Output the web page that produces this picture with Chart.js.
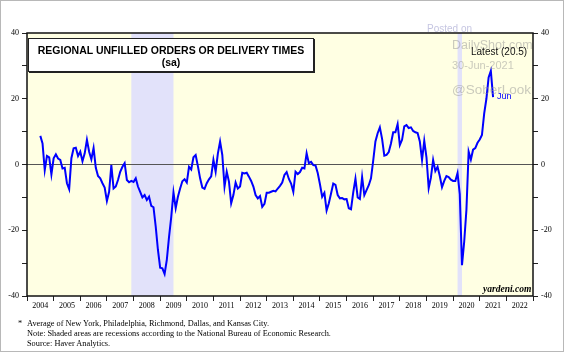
<!DOCTYPE html>
<html>
<head>
<meta charset="utf-8">
<script src="https://cdn.jsdelivr.net/npm/chart.js@4.4.1/dist/chart.umd.min.js"></script>
<style>
html, body { margin: 0; padding: 0; background: #fff; }
#wrap { position: relative; width: 564px; height: 352px; overflow: hidden; }
#chart { position: absolute; left: 0; top: 0; }
#edge { position: absolute; left: 0; top: 0; width: 562px; height: 350px; border: 1px solid #b8b8b8; pointer-events: none; }
.t { position: absolute; white-space: nowrap; line-height: 1; }
#titleBox { position: absolute; left: 28px; top: 38px; width: 284px; height: 32px; background: #fff;
  border: 1px solid #222; box-shadow: 1px 1px 0 #222; font-family: "Liberation Sans", Arial, sans-serif;
  font-weight: bold; font-size: 10.5px; text-align: center; color: #000; }
#titleBox div { position: absolute; left: 0; right: 0; line-height: 1; }
.mark { color: rgba(150, 150, 150, 0.5); font-family: "Liberation Sans", Arial, sans-serif; }
.note { font-family: "Liberation Serif", "Times New Roman", serif; font-size: 8.3px; color: #000; }
</style>
</head>
<body>
<div id="wrap">
  <canvas id="chart" width="564" height="352"></canvas>
  <div id="titleBox">
    <div style="top:6px">REGIONAL UNFILLED ORDERS OR DELIVERY TIMES</div>
    <div style="top:18px">(sa)</div>
  </div>
  <div class="t mark" style="left:427px;top:24px;font-size:10px;color:rgba(150,150,200,0.55)">Posted on</div>
  <div class="t mark" style="left:452px;top:39px;font-size:12.5px">DailyShot.com</div>
  <div class="t mark" style="left:452px;top:60px;font-size:11px">30-Jun-2021</div>
  <div class="t mark" style="left:452px;top:83px;font-size:13.5px">@SoberLook</div>
  <div class="t" style="left:471px;top:47px;font-size:10px;color:#111;font-family:'Liberation Sans',Arial,sans-serif">Latest (20.5)</div>
  <div class="t" style="left:497px;top:92px;font-size:9px;color:#0000ff;font-family:'Liberation Sans',Arial,sans-serif">Jun</div>
  <div class="t" style="left:483px;top:285px;font-size:9.5px;font-weight:bold;font-style:italic;font-family:'Liberation Serif',serif">yardeni.com</div>
  <div class="t note" style="left:18px;top:320px">*</div>
  <div class="t note" style="left:27px;top:320px">Average of New York, Philadelphia, Richmond, Dallas, and Kansas City.</div>
  <div class="t note" style="left:27px;top:330px">Note: Shaded areas are recessions according to the National Bureau of Economic Research.</div>
  <div class="t note" style="left:27px;top:340px">Source: Haver Analytics.</div>
  <div id="edge"></div>
</div>
<script>
// monthly series, first value is Jun 2004, last is Jun 2021
const seriesStart = [2004, 6];
const unfilledOrders = [
  8.7, 6.4, -1.7, 2.6, 2.2, -3.0, 1.9,
  3.1, 1.8, 1.4, -1.2, -1.0, -5.7, -7.5, 1.9, 4.9, 5.1, 2.6, 3.9,
  1.0, 3.4, 7.5, 3.9, 1.6, 5.0, -1.0, -3.5, -4.2, -5.7, -7.0, -11.1,
  -8.3, -0.2, -7.3, -6.7, -4.7, -2.2, -0.7, 0.4, -4.7, -5.4, -5.0, -5.3,
  -4.2, -6.7, -8.3, -10.0, -9.3, -10.8, -9.8, -12.6, -13.0, -18.9, -26.0, -31.4,
  -31.6, -33.3, -29.0, -22.0, -15.9, -8.5, -13.3, -9.8, -7.3, -5.1, -4.5, -5.5,
  -0.7, -1.5, 2.2, 2.9, -0.5, -4.2, -7.0, -7.4, -5.7, -4.5, -3.6, 1.4,
  -2.2, 3.3, 7.0, 2.9, -6.7, -2.2, -5.2, -11.8, -9.3, -5.5, -7.3, -6.7,
  -2.5, -2.7, -2.5, -3.7, -5.0, -6.7, -9.3, -10.3, -9.6, -12.9, -12.0, -8.6,
  -8.6, -8.3, -8.0, -8.2, -7.3, -6.5, -5.5, -3.2, -2.3, -4.4, -5.8, -8.3,
  -2.2, -2.9, -2.3, -1.0, -1.2, 3.4, 0.4, 0.8, -0.2, -0.3, -2.6, -6.0,
  -9.8, -8.6, -14.0, -11.8, -8.8, -5.8, -6.2, -9.3, -10.3, -10.2, -10.6, -10.5,
  -13.3, -13.6, -8.5, -4.3, -10.0, -10.5, -3.8, -9.3, -7.8, -6.3, -4.2, 1.2,
  7.0, 9.5, 11.3, 7.8, 2.7, 2.9, 3.8, 6.4, 9.8, 9.8, 12.3, 5.9,
  7.5, 11.6, 12.0, 11.1, 11.3, 10.2, 9.8, 9.6, 7.0, 1.4, 7.2, 2.2,
  -7.2, -4.0, 1.4, -2.0, -0.7, -3.5, -6.9, -5.0, -3.5, -3.8, -4.6, -5.0,
  -5.0, -2.6, -9.0, -30.6, -23.5, -13.8, 3.9, 1.5, 4.5, 5.0, 6.6, 7.6,
  9.0, 15.5, 20.0, 26.5, 28.5, 20.5
];
const yearTicks = [2004, 2005, 2006, 2007, 2008, 2009, 2010, 2011, 2012, 2013, 2014,
  2015, 2016, 2017, 2018, 2019, 2020, 2021, 2022, 2023];
const recessionStarts = [[2007, 12], [2020, 3]];
const recessionEnds = [[2009, 6], [2020, 4]];

// month [y, m] -> decimal year at the end of that month
const monthEnd = (y, m) => y + m / 12;
const monthBegin = (y, m) => y + (m - 1) / 12;

const points = unfilledOrders.map((v, i) => ({
    x: monthEnd(seriesStart[0], seriesStart[1] + i),
    y: v
}));

const paper = {
    id: "paper",
    beforeDraw(chart) {
        const { ctx, chartArea: a, scales } = chart;
        ctx.save();
        ctx.fillStyle = "#ffffe3";
        ctx.fillRect(a.left, a.top, a.right - a.left, a.bottom - a.top);
        ctx.fillStyle = "#e2e2fa";
        recessionStarts.forEach((s, i) => {
            const x0 = scales.x.getPixelForValue(monthBegin(s[0], s[1]));
            const x1 = scales.x.getPixelForValue(monthEnd(recessionEnds[i][0], recessionEnds[i][1]));
            ctx.fillRect(x0, a.top, x1 - x0, a.bottom - a.top);
        });
        ctx.restore();
    },
    afterDraw(chart) {
        const { ctx, chartArea: a } = chart;
        ctx.save();
        ctx.strokeStyle = "#111";
        ctx.lineWidth = 1.5;
        ctx.strokeRect(a.left, a.top, a.right - a.left, a.bottom - a.top);
        ctx.restore();
    }
};

const tickFont = { family: "'Liberation Serif', 'Times New Roman', serif", size: 8 };
const yAxis = (pos, width) => ({
    position: pos,
    min: -40,
    max: 40,
    afterFit: s => { s.width = width; },
    border: { display: false },
    grid: {
        drawOnChartArea: pos === "left",
        color: c => (c.tick && c.tick.value === 0 ? "#555" : "rgba(0,0,0,0)"),
        tickColor: "#222",
        tickLength: 5
    },
    ticks: {
        stepSize: 10,
        padding: 3,
        color: "#000",
        font: tickFont,
        callback: v => (v % 20 === 0 ? String(v) : "")
    }
});

new Chart(document.getElementById("chart"), {
    type: "line",
    data: {
        datasets: [{
            data: points,
            borderColor: "#0000ff",
            borderWidth: 2,
            pointRadius: 0,
            tension: 0,
            fill: false
        }]
    },
    options: {
        responsive: false,
        animation: false,
        layout: { padding: { top: 33, left: 0, right: 0, bottom: 0 } },
        plugins: { legend: { display: false }, tooltip: { enabled: false } },
        scales: {
            x: {
                type: "linear",
                min: 2004,
                max: 2023,
                afterBuildTicks: s => { s.ticks = yearTicks.map(v => ({ value: v })); },
                afterFit: s => { s.height = 56; },
                border: { display: false },
                grid: { drawOnChartArea: false, tickColor: "#222", tickLength: 5 },
                ticks: {
                    autoSkip: false,
                    maxRotation: 0,
                    labelOffset: 13.3,
                    padding: 0,
                    color: "#000",
                    font: tickFont,
                    callback: v => (v < 2023 ? String(v) : "")
                }
            },
            y: yAxis("left", 27),
            y2: yAxis("right", 31)
        }
    },
    plugins: [paper]
});
</script>
</body>
</html>
